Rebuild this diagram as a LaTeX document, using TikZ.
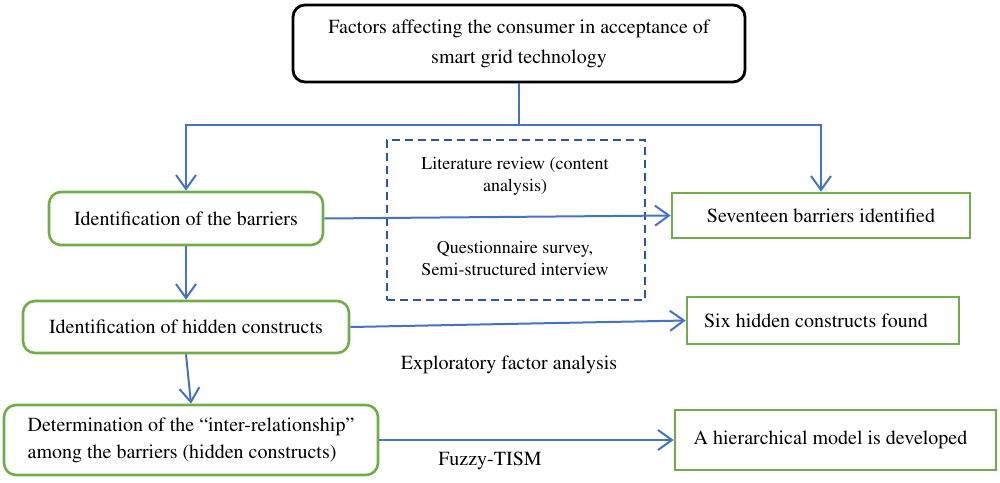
\documentclass[tikz,border=0pt]{standalone}
\usepackage[T1]{fontenc}
\usepackage{times}
\usetikzlibrary{arrows.meta}
\definecolor{arrblue}{HTML}{4472C4}
\definecolor{boxgreen}{HTML}{70AD47}
\definecolor{dashblue}{HTML}{2F5597}
\tikzset{
  arr/.style={draw=arrblue, line width=1pt, -{Straight Barb[length=7pt,width=10pt,line width=1pt]}},
  link/.style={draw=arrblue, line width=1pt},
  topbox/.style={draw=black, line width=1.4pt, rounded corners=6pt, align=center, font=\fontsize{10}{15}\selectfont, inner sep=0pt},
  gbox/.style={draw=boxgreen, line width=1.3pt, rounded corners=6pt, align=center, font=\fontsize{10}{13.5}\selectfont, inner sep=0pt},
  sbox/.style={draw=boxgreen, line width=1.3pt, align=center, font=\fontsize{10}{13.5}\selectfont, inner sep=0pt},
  dbox/.style={draw=dashblue, line width=1.1pt, dash pattern=on 4pt off 2.5pt, inner sep=0pt},
  small/.style={align=center, font=\fontsize{9}{11}\selectfont, inner sep=0pt},
  lab/.style={font=\fontsize{10}{13.5}\selectfont, inner sep=0pt},
}
\begin{document}
\begin{tikzpicture}[x=0.5pt, y=-0.5pt]
\useasboundingbox (0,0) rectangle (1000,482);
\node[topbox, minimum width=226pt, minimum height=38.5pt] (top) at (519,43.5)
  {Factors affecting the consumer in acceptance of\\smart grid technology};
\node[gbox, minimum width=137pt, minimum height=26.5pt] (b1) at (186,218.5) {Identification of the barriers};
\node[sbox, minimum width=149pt, minimum height=22.5pt] (s1) at (821,215.5) {Seventeen barriers identified};
\node[dbox, minimum width=129pt, minimum height=80pt] (dash) at (516,220) {};
\node[small] (lit) at (515,176) {Literature review (content\\analysis)};
\node[small] (quest) at (515,258) {Questionnaire survey,\\Semi-structured interview};
\node[gbox, minimum width=163pt, minimum height=26pt] (b2) at (186,327) {Identification of hidden constructs};
\node[sbox, minimum width=136pt, minimum height=23.5pt] (s2) at (823,320.5) {Six hidden constructs found\hspace*{7pt}};
\node[gbox, minimum width=187pt, minimum height=35pt, align=left] (b3) at (191,440)
  {Determination of the ``inter-relationship''\\among the barriers (hidden constructs)};
\node[sbox, minimum width=160.5pt, minimum height=30pt] (s3) at (835.5,440) {A hierarchical model is developed\hspace*{5pt}};
\node[lab] (efa) at (509,365) {Exploratory factor analysis};
\node[lab] (fz) at (490,461) {Fuzzy-TISM};
\coordinate (j) at (519,125);
\draw[link] (top.south) -- (j);
\draw[arr] (j) -| (b1.north);
\draw[arr] (j) -| (s1.north);
\draw[arr] (b1.east) -- (s1.west);
\draw[arr] (b1.south) -- (b2.north);
\draw[arr] (b2.south) -- (b3.north);
\draw[arr] (b2.east) -- (s2.west);
\draw[arr] (b3.east) -- (s3.west);
\end{tikzpicture}
\end{document}
